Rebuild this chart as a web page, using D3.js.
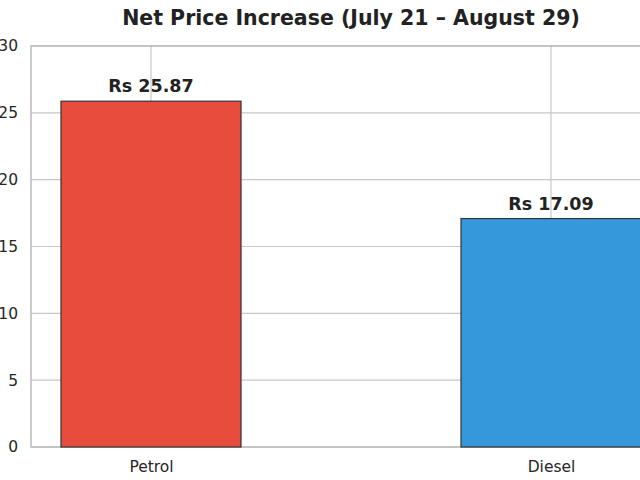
<!DOCTYPE html>
<html>
<head>
<meta charset="utf-8">
<script src="https://cdn.jsdelivr.net/npm/d3@7"></script>
<style>
  body { margin: 0; background: #fff; }
  text { font-family: "DejaVu Sans", sans-serif; }
</style>
</head>
<body>
<script>
var categories = ["Petrol", "Diesel"];
var increases = [25.87, 17.09];
var barColors = ["#e74c3c", "#3498db"];
var yTicks = [0, 5, 10, 15, 20, 25, 30];

var svg = d3.select("body").append("svg")
    .attr("width", 640)
    .attr("height", 480);

// x runs from -0.3 to 1.3 in bar units, right side falls off the picture
var x = d3.scaleLinear().domain([-0.3, 1.3]).range([31, 671]);
var y = d3.scaleLinear().domain([0, 30]).range([447, 46]);
var barWidth = x(0.45) - x(0);

// horizontal grid
svg.append("g")
    .selectAll("line")
    .data(yTicks)
    .enter()
    .append("line")
    .attr("x1", x(-0.3))
    .attr("x2", x(1.3))
    .attr("y1", function (d) { return y(d); })
    .attr("y2", function (d) { return y(d); })
    .style("stroke", "#c8c8c8")
    .style("stroke-width", 1.2);

// vertical grid at categories
svg.append("g")
    .selectAll("line")
    .data(categories)
    .enter()
    .append("line")
    .attr("x1", function (d, i) { return x(i); })
    .attr("x2", function (d, i) { return x(i); })
    .attr("y1", y(0))
    .attr("y2", y(30))
    .style("stroke", "#c8c8c8")
    .style("stroke-width", 1.2);

// frame
svg.append("rect")
    .attr("x", x(-0.3))
    .attr("y", y(30))
    .attr("width", x(1.3) - x(-0.3))
    .attr("height", y(0) - y(30))
    .style("fill", "none")
    .style("stroke", "#bbbbbb")
    .style("stroke-width", 1.5);

// bars
svg.append("g")
    .selectAll("rect")
    .data(increases)
    .enter()
    .append("rect")
    .attr("x", function (d, i) { return x(i) - barWidth / 2; })
    .attr("y", function (d) { return y(d); })
    .attr("width", barWidth)
    .attr("height", function (d) { return y(0) - y(d); })
    .style("fill", function (d, i) { return barColors[i]; })
    .style("stroke", "#333333")
    .style("stroke-width", 1.2);

// value labels
svg.append("g")
    .selectAll("text")
    .data(increases)
    .enter()
    .append("text")
    .attr("x", function (d, i) { return x(i); })
    .attr("y", function (d) { return y(d) - 9; })
    .attr("text-anchor", "middle")
    .style("font-size", "17.5px")
    .style("font-weight", "bold")
    .style("fill", "#222")
    .text(function (d) { return "Rs " + d.toFixed(2); });

// y axis
var yAxis = d3.axisLeft(y).tickValues(yTicks).tickSize(0).tickPadding(13);
var gy = svg.append("g").attr("transform", "translate(" + x(-0.3) + ",0)").call(yAxis);
gy.select(".domain").remove();
gy.selectAll("text").style("font-size", "15.5px").style("fill", "#262626")
    .style("font-family", "DejaVu Sans, sans-serif");

// x axis
var xAxis = d3.axisBottom(x).tickValues([0, 1])
    .tickFormat(function (d) { return categories[d]; })
    .tickSize(0).tickPadding(14);
var gx = svg.append("g").attr("transform", "translate(0," + y(0) + ")").call(xAxis);
gx.select(".domain").remove();
gx.selectAll("text").style("font-size", "15.5px").style("fill", "#262626")
    .style("font-family", "DejaVu Sans, sans-serif");

// title
svg.append("text")
    .attr("x", (x(-0.3) + x(1.3)) / 2)
    .attr("y", 25)
    .attr("text-anchor", "middle")
    .style("font-size", "20.5px")
    .style("font-weight", "bold")
    .style("fill", "#222")
    .text("Net Price Increase (July 21 \u2013 August 29)");
</script>
</body>
</html>
